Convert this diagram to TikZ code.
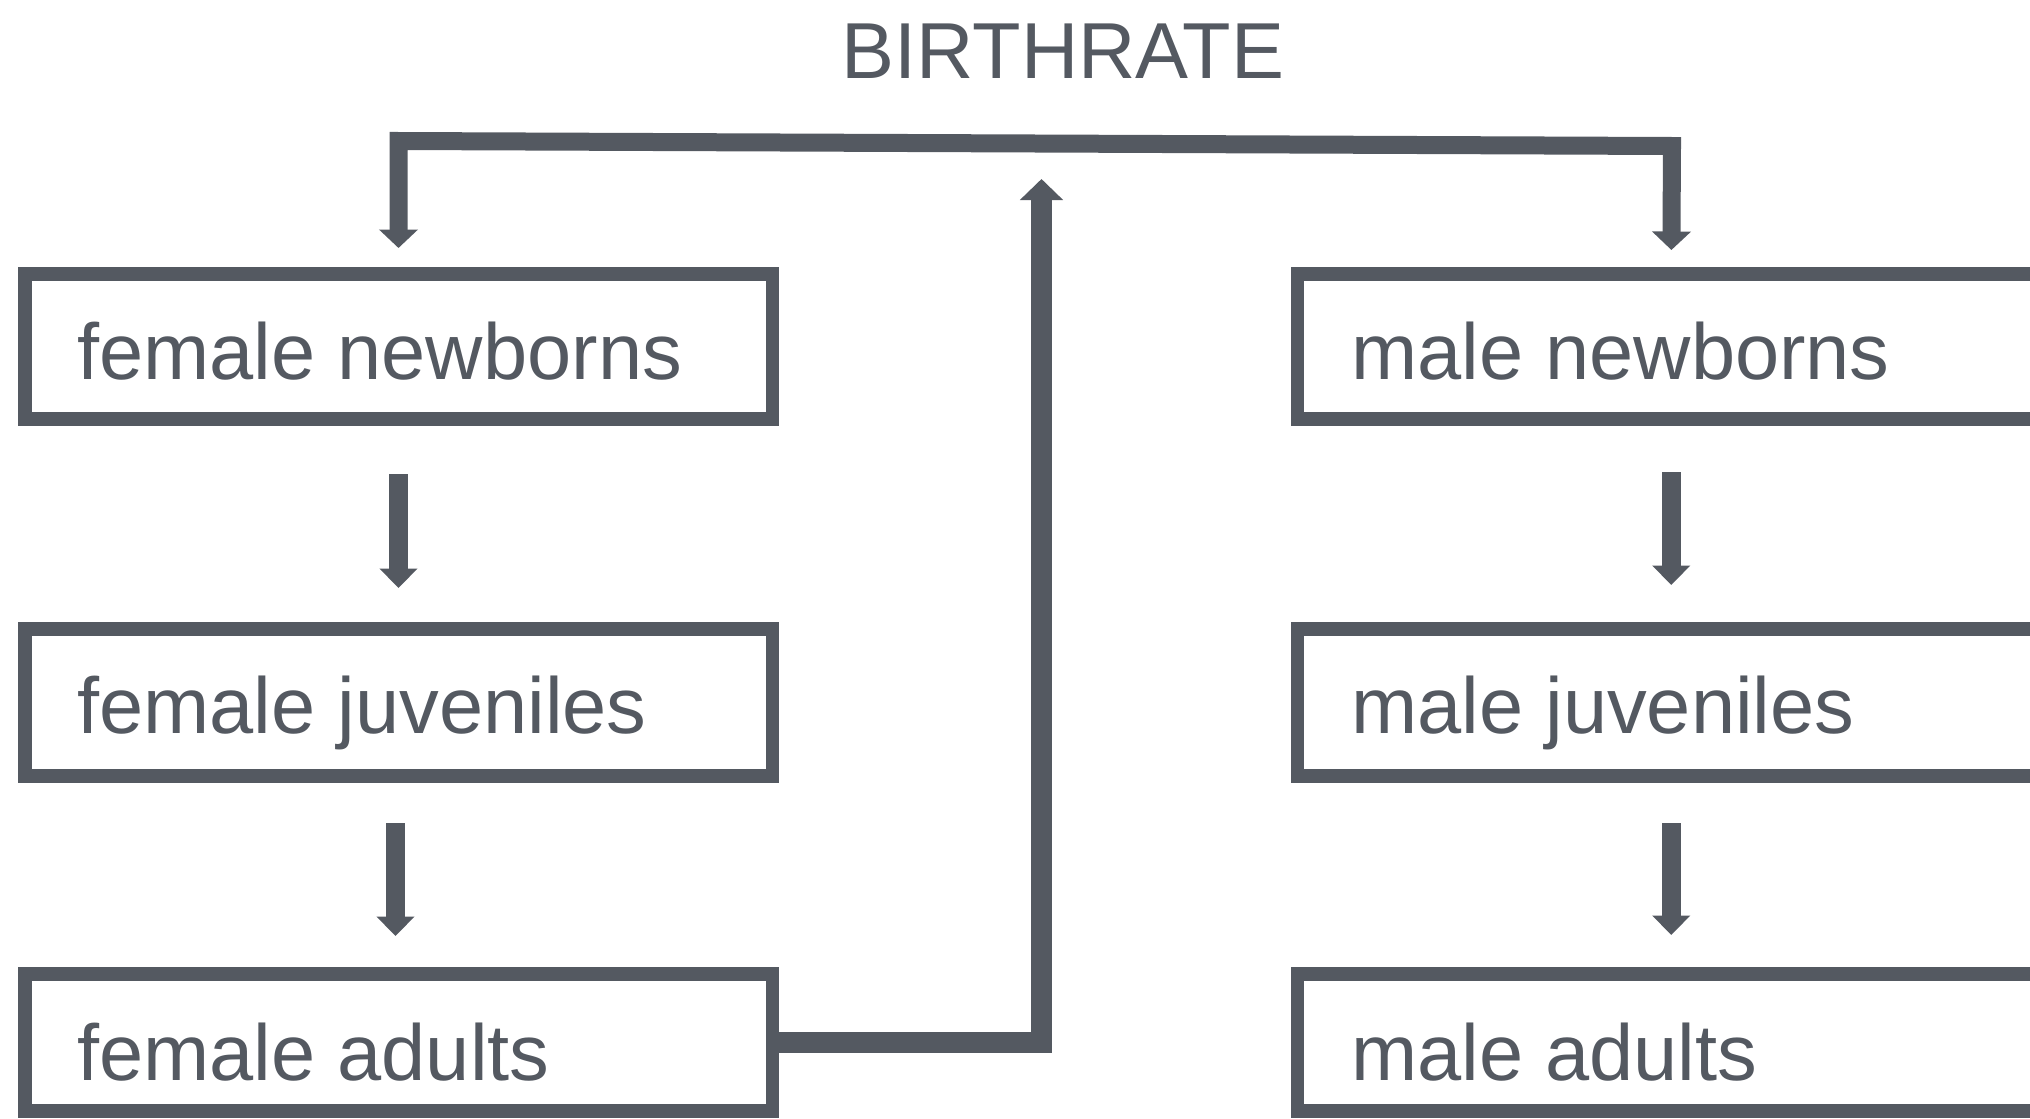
\documentclass[tikz,border=0pt]{standalone}
\usepackage{fontspec}
\setmainfont{Liberation Sans}
\usetikzlibrary{arrows.meta}
\definecolor{slate}{RGB}{84,89,97}
\begin{document}
\begin{tikzpicture}[x=0.5pt,y=-0.5pt,
  box/.style={draw=slate, line width=6.75pt, rectangle, outer sep=0pt, inner sep=0pt,
    minimum width=373.75pt},
  lbl/.style={text=slate, font=\fontsize{39.7}{48}\selectfont, inner sep=0pt, anchor=base west},
  flow/.style={draw=slate, line width=9.25pt, line join=miter,
    -{Triangle[width=18.5pt,length=9.75pt]}},
  feed/.style={draw=slate, line width=9pt, line join=miter,
    {Triangle[width=19pt,length=9.25pt]}-{Triangle[width=19pt,length=9.25pt]}},
  rise/.style={draw=slate, line width=10.5pt, line join=miter,
    -{Triangle[width=21pt,length=10.5pt]}}
]
\useasboundingbox (0,0) rectangle (2030,1119);
\clip (0,0) rectangle (2030,1119);

% title
\node[text=slate, font=\fontsize{39.7}{48}\selectfont, inner sep=0pt, anchor=base] (title) at (1063,78) {BIRTHRATE};

% female column
\node[box, minimum height=72.5pt] (fn) at (398.5,346.5) {};
\node[box, minimum height=73.5pt] (fj) at (398.5,702.5) {};
\node[box, minimum height=68.5pt] (fa) at (398.5,1042.5) {};
\node[lbl] (tfn) at (77,379) {female newborns};
\node[lbl] (tfj) at (77,733) {female juveniles};
\node[lbl] (tfa) at (77,1080) {female adults};

% male column
\node[box, minimum height=72.5pt] (mn) at (1671.25,346.5) {};
\node[box, minimum height=73.5pt] (mj) at (1671.25,702.5) {};
\node[box, minimum height=68.5pt] (ma) at (1671.25,1042.5) {};
\node[lbl] (tmn) at (1351,379) {male newborns};
\node[lbl] (tmj) at (1351,733) {male juveniles};
\node[lbl] (tma) at (1351,1080) {male adults};

% ageing arrows
\draw[flow, shorten <=27.5pt, shorten >=20.5pt] (fn.south) -- (fj.north);
\draw[flow, shorten <=23.5pt, shorten >=19pt] ([xshift=-1.5pt]fj.south) -- ([xshift=-1.5pt]fa.north);
\draw[flow, shorten <=26.5pt, shorten >=22pt] (mn.south) -- (mj.north);
\draw[flow, shorten <=23.5pt, shorten >=19.5pt] (mj.south) -- (ma.north);

% births from the adult females
\coordinate (up) at (1041.5,179);
\draw[rise] (fa.east) -| (up);

% split of births into both newborn boxes
\coordinate (barL) at (398.5,141);
\coordinate (barR) at (1672,146);
\draw[feed, shorten <=13pt, shorten >=12pt] (fn.north) -- (barL) -- (barR) -- (mn.north);
\end{tikzpicture}
\end{document}
